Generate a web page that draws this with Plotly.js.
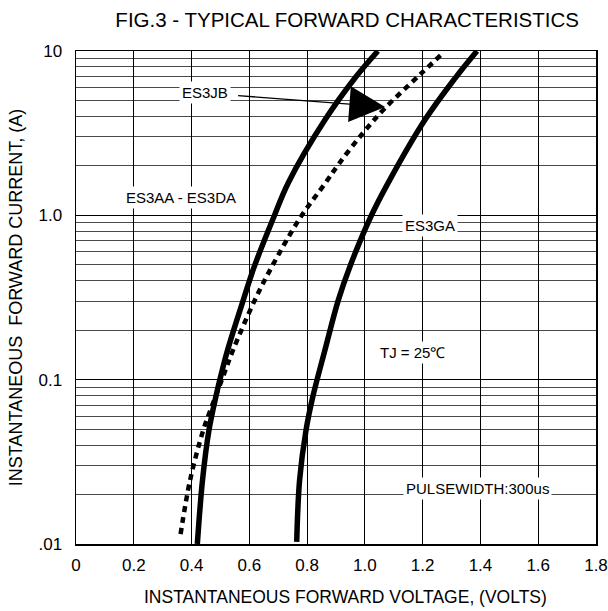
<!DOCTYPE html>
<html>
<head>
<meta charset="utf-8">
<script src="https://cdn.plot.ly/plotly-3.0.1.min.js"></script>
<style>html,body{margin:0;padding:0;background:#fff;}#chart{width:608px;height:611px;}</style>
</head>
<body>
<div id="chart"></div>
<script>
// ES3AA - ES3DA (solid)
const vA = [0.42, 0.438, 0.46, 0.485, 0.498, 0.525, 0.579, 0.617, 0.683, 0.735, 0.862, 0.965, 1.045];
const iA = [0.01, 0.0245, 0.049, 0.08, 0.1, 0.152, 0.305, 0.487, 0.96, 1.58, 3.81, 6.82, 10];
// ES3JB (dotted)
const vB = [0.362, 0.395, 0.44, 0.465, 0.505, 0.544, 0.619, 0.678, 0.775, 0.864, 0.912, 0.994, 1.07, 1.19, 1.27];
const iB = [0.0115, 0.0245, 0.049, 0.065, 0.1, 0.152, 0.305, 0.487, 0.96, 1.58, 2.08, 3.18, 4.5, 7.16, 9.7];
// ES3GA (solid)
const vC = [0.764, 0.774, 0.796, 0.82, 0.862, 0.908, 0.948, 1.018, 1.081, 1.208, 1.312, 1.388];
const iC = [0.0103, 0.0245, 0.049, 0.079, 0.152, 0.305, 0.487, 0.96, 1.58, 3.81, 6.82, 10];

const xTicks = [0, 0.2, 0.4, 0.6, 0.8, 1.0, 1.2, 1.4, 1.6, 1.8];
const xTickText = ['0', '0.2', '0.4', '0.6', '0.8', '1.0', '1.2', '1.4', '1.6', '1.8'];
const yTicks = [0.01, 0.1, 1, 10];
const yTickText = ['.01', '0.1', '1.0', '10'];
const yMinor = [0.02,0.03,0.04,0.05,0.06,0.07,0.08,0.09,0.2,0.3,0.4,0.5,0.6,0.7,0.8,0.9,2,3,4,5,6,7,8,9];

const labels = [
  {text: 'ES3JB', v: 0.445, i: 5.56},
  {text: 'ES3AA - ES3DA', v: 0.365, i: 1.28},
  {text: 'ES3GA', v: 1.225, i: 0.862},
  {text: 'TJ = 25\u2103', v: 1.166, i: 0.146},
  {text: 'PULSEWIDTH:300us', v: 1.39, i: 0.0219}
];
const arrowFrom = {v: 0.556, i: 5.36};
const arrowTo = {v: 1.07, i: 4.57};

const font = 'Liberation Sans, Arial, sans-serif';

const traces = [
  {x: vA, y: iA, mode: 'lines', line: {color: '#000', width: 5.5, shape: 'spline'}, name: 'ES3AA - ES3DA'},
  {x: vB, y: iB, mode: 'lines', line: {color: '#000', width: 4.5, shape: 'spline', dash: '6px,5px'}, name: 'ES3JB'},
  {x: vC, y: iC, mode: 'lines', line: {color: '#000', width: 5.5, shape: 'spline'}, name: 'ES3GA'}
];

const annotations = labels.map(l => ({
  x: l.v, y: Math.log10(l.i), xref: 'x', yref: 'y', text: l.text, showarrow: false,
  font: {family: font, size: 15, color: '#000'}, bgcolor: '#fff', borderpad: 2
}));
annotations.push({
  x: arrowTo.v, y: Math.log10(arrowTo.i), ax: arrowFrom.v, ay: Math.log10(arrowFrom.i),
  xref: 'x', yref: 'y', axref: 'x', ayref: 'y', text: '', showarrow: true,
  arrowhead: 2, arrowsize: 5.5, arrowwidth: 1.3, arrowcolor: '#000', standoff: 0
});
annotations.push({
  x: 0.519, y: -0.1075, xref: 'paper', yref: 'paper', xanchor: 'center', yanchor: 'middle',
  text: 'INSTANTANEOUS FORWARD VOLTAGE, (VOLTS)', showarrow: false,
  font: {family: font, size: 17.5, color: '#000'}
});

const layout = {
  width: 608, height: 611,
  margin: {l: 76, r: 12, t: 51, b: 67},
  paper_bgcolor: '#fff', plot_bgcolor: '#fff',
  showlegend: false,
  title: {text: 'FIG.3 - TYPICAL FORWARD CHARACTERISTICS', font: {family: font, size: 20.5, color: '#000'}, x: 0.571, xanchor: 'center', y: 0.967, yanchor: 'middle'},
  xaxis: {
    range: [0, 1.8], tickvals: xTicks, ticktext: xTickText, showgrid: true, gridcolor: '#000', gridwidth: 1,
    zeroline: false, showline: true, linecolor: '#000', linewidth: 1.5, mirror: true, ticks: '',
    tickfont: {family: font, size: 17, color: '#000'}, ticklabelstandoff: 5
  },
  yaxis: {
    type: 'log', range: [-2, 1], tickvals: yTicks, ticktext: yTickText, showgrid: true, gridcolor: '#000', gridwidth: 1,
    zeroline: false, showline: true, linecolor: '#000', linewidth: 1.5, mirror: true, ticks: '',
    tickfont: {family: font, size: 17, color: '#000'}, ticklabelstandoff: 9,
    minor: {tickvals: yMinor, showgrid: true, gridcolor: '#4a4a4a', gridwidth: 1, ticks: ''},
    title: {text: 'INSTANTANEOUS  FORWARD CURRENT, (A)', font: {family: font, size: 18, color: '#000'}, standoff: 11}
  },
  annotations: annotations
};

Plotly.newPlot('chart', traces, layout, {displayModeBar: false, staticPlot: true});
</script>
</body>
</html>
